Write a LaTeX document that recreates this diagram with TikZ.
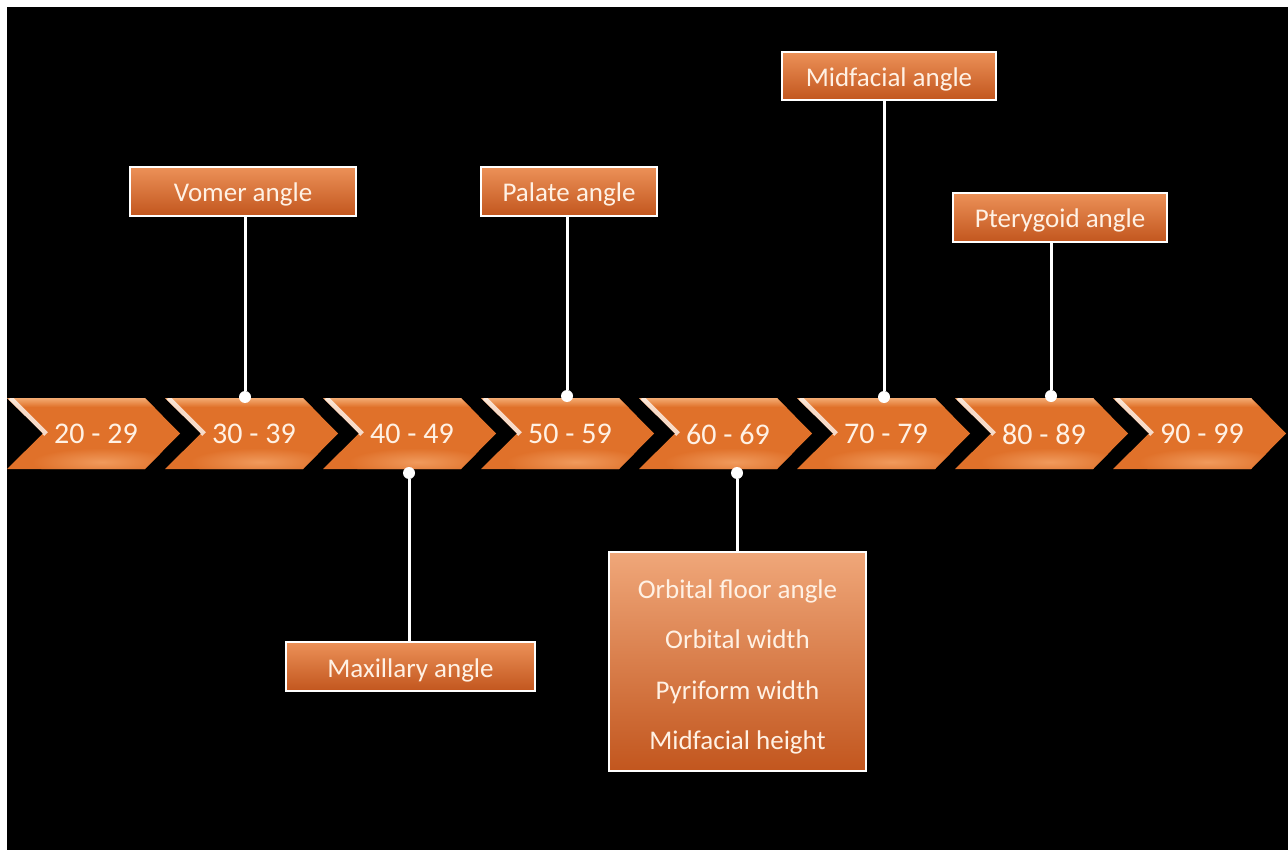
\documentclass[tikz,border=0pt]{standalone}
\usepackage{fontspec}
\setmainfont{Carlito}
\usepackage{tikz}
\usepackage{xcolor}

\definecolor{chevtop}{HTML}{F6B27A}
\definecolor{chevbody}{HTML}{E0712A}
\definecolor{chevglow}{HTML}{F09A5C}
\definecolor{boxtop}{HTML}{EC9158}
\definecolor{boxbot}{HTML}{C2561E}
\definecolor{labeltext}{HTML}{FFF1E4}

\begin{document}
\begin{tikzpicture}[x=1pt, y=-1pt,
  chevtext/.style={text=labeltext, font=\fontsize{30}{36}\selectfont},
  agebox/.style={draw=white, line width=2.5pt, top color=boxtop, bottom color=boxbot,
    text=labeltext, font=\fontsize{27}{32}\selectfont, minimum height=49pt, inner sep=0pt,
    text height=21pt, text depth=0pt},
  pin/.style={circle, fill=white, inner sep=0pt, minimum size=12pt},
  link/.style={draw=white, line width=3pt}]

  % background
  \fill[white] (0,0) rectangle (1288,850);
  \fill[black] (7,7) rectangle (1288,850);

  % age chevrons
  \foreach \from/\to [count=\i from 0] in {20/29,30/39,40/49,50/59,60/69,70/79,80/89,90/99} {
    \pgfmathsetmacro\xs{7+158*\i}
    \begin{scope}
      \clip (\xs,398) -- ++(138,0) -- ++(35,35.5) -- ++(-35,35.5) -- ++(-138,0) -- ++(36,-35.5) -- cycle;
      \fill[chevbody] (\xs,398) rectangle ++(175,72);
      \shade[top color=chevtop, bottom color=chevbody] (\xs,397) rectangle ++(175,10);
      \shade[inner color=chevglow, outer color=chevbody] ({\xs+95},462) ellipse [x radius=70, y radius=14];
      \draw[white, opacity=0.75, line width=5pt] ({\xs+3},398) -- ({\xs+39},434);
    \end{scope}
    \node[chevtext] (age\from) at ({\xs+89},434) {\from\ -\ \to};
  }

  % label boxes
  \node[agebox, minimum width=226pt] (vomer) at (243,191.5) {Vomer angle};
  \node[agebox, minimum width=176pt] (palate) at (569,191.5) {Palate angle};
  \node[agebox, minimum width=214pt, minimum height=48pt] (midfacial) at (889,76) {Midfacial angle};
  \node[agebox, minimum width=214pt] (pterygoid) at (1060,217.5) {Pterygoid angle};
  \node[agebox, minimum width=249pt] (maxillary) at (410.5,666.5) {Maxillary angle};
  \node[agebox, minimum width=257pt, minimum height=219pt, align=center,
    text height=, text depth=, top color=boxtop!80!white,
    font=\fontsize{27}{50.5}\selectfont] (orbital) at (737.5,661.5)
    {\rule{0pt}{30pt}Orbital floor angle\\Orbital width\\Pyriform width\\Midfacial height};

  % pins on the chevrons
  \node[pin] (pin30) at (245,397) {};
  \node[pin] (pin50) at (567,396) {};
  \node[pin] (pin70) at (884,397) {};
  \node[pin] (pin80) at (1051,396) {};
  \node[pin] (pin40) at (409,473) {};
  \node[pin] (pin60) at (737,473) {};

  \draw[link] (pin30) -- (pin30 |- vomer.south);
  \draw[link] (pin50) -- (pin50 |- palate.south);
  \draw[link] (pin70) -- (pin70 |- midfacial.south);
  \draw[link] (pin80) -- (pin80 |- pterygoid.south);
  \draw[link] (pin40) -- (pin40 |- maxillary.north);
  \draw[link] (pin60) -- (pin60 |- orbital.north);
\end{tikzpicture}
\end{document}
